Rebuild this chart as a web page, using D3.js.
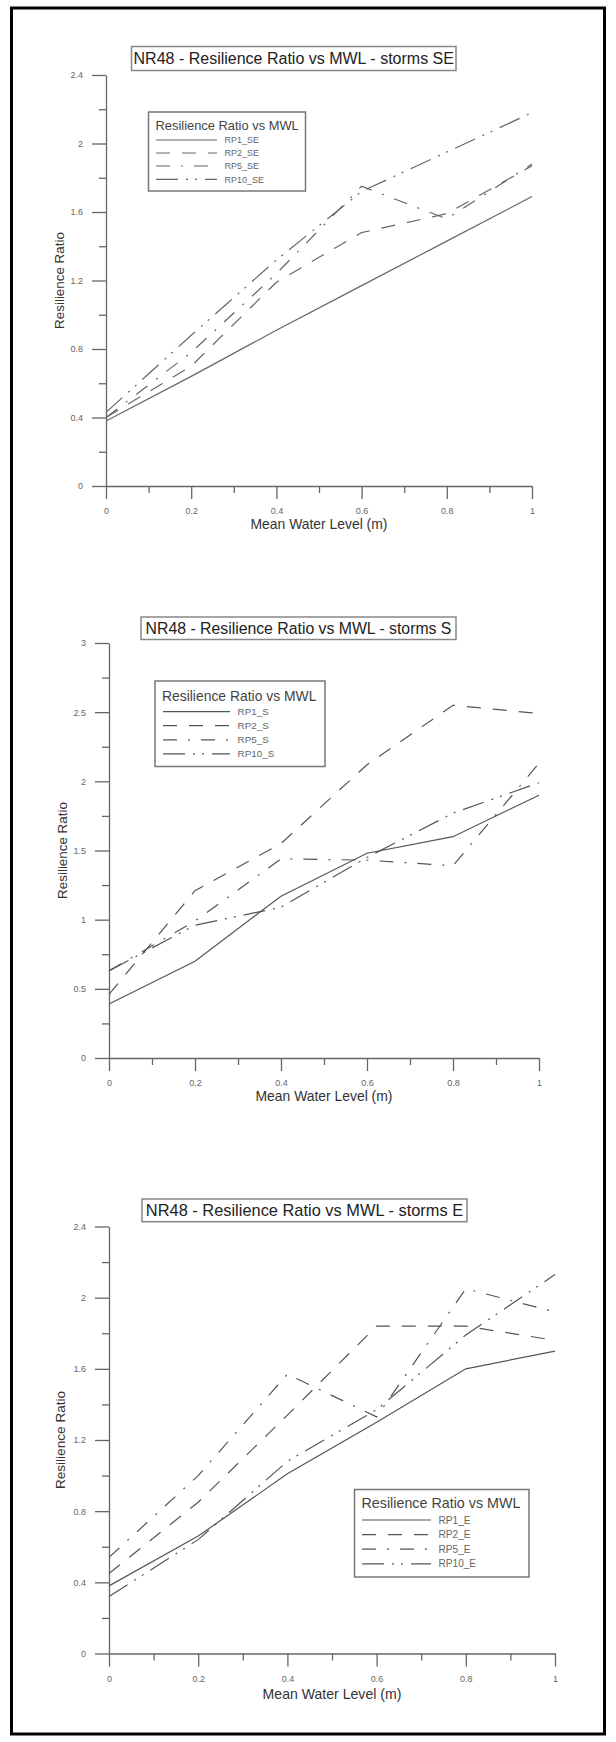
<!DOCTYPE html>
<html>
<head>
<meta charset="utf-8">
<script src="https://cdn.jsdelivr.net/npm/d3@7"></script>
<style>
  html, body { margin: 0; padding: 0; background: #fff; }
  svg { display: block; }
</style>
</head>
<body>
<script>
// ---------- DATA ----------
const mwl = [0, 0.2, 0.4, 0.6, 0.8, 1];
const xTickValues = [0, 0.2, 0.4, 0.6, 0.8, 1];
const xTickLabels = ["0", "0.2", "0.4", "0.6", "0.8", "1"];

const yTicksSE = [0, 0.4, 0.8, 1.2, 1.6, 2, 2.4];
const yTickLabelsSE = ["0", "0.4", "0.8", "1.2", "1.6", "2", "2.4"];
const yTicksS = [0, 0.5, 1, 1.5, 2, 2.5, 3];
const yTickLabelsS = ["0", "0.5", "1", "1.5", "2", "2.5", "3"];
const yTicksE = [0, 0.4, 0.8, 1.2, 1.6, 2, 2.4];
const yTickLabelsE = ["0", "0.4", "0.8", "1.2", "1.6", "2", "2.4"];

const namesSE = ["RP1_SE", "RP2_SE", "RP5_SE", "RP10_SE"];
const rp1SE  = [0.38, 0.64, 0.91, 1.17, 1.43, 1.69];
const rp2SE  = [0.40, 0.70, 1.19, 1.48, 1.59, 1.87];
const rp5SE  = [0.40, 0.78, 1.24, 1.75, 1.56, 1.88];
const rp10SE = [0.43, 0.88, 1.32, 1.72, 1.95, 2.18];

const namesS = ["RP1_S", "RP2_S", "RP5_S", "RP10_S"];
const rp1S  = [0.39, 0.70, 1.17, 1.48, 1.60, 1.90];
const rp2S  = [0.46, 1.21, 1.55, 2.12, 2.55, 2.49];
const rp5S  = [0.63, 0.99, 1.44, 1.43, 1.39, 2.13];
const rp10S = [0.63, 0.96, 1.09, 1.45, 1.77, 1.99];

const namesE = ["RP1_E", "RP2_E", "RP5_E", "RP10_E"];
const rp1E  = [0.38, 0.66, 1.01, 1.30, 1.60, 1.70];
const rp2E  = [0.45, 0.85, 1.34, 1.84, 1.84, 1.76];
const rp5E  = [0.54, 1.00, 1.57, 1.33, 2.05, 1.92];
const rp10E = [0.32, 0.64, 1.08, 1.37, 1.79, 2.13];

const titles = [
  "NR48 - Resilience Ratio vs MWL - storms SE",
  "NR48 - Resilience Ratio vs MWL - storms S",
  "NR48 - Resilience Ratio vs MWL - storms E"
];
const legendTitle = "Resilience Ratio vs MWL";
const xLabel = "Mean Water Level (m)";
const yLabel = "Resilience Ratio";

// ---------- STYLE ----------
const dashes = [null, "14,12", "14,11,2,11", "22,8,2,7,2,8"];
const FONT = "'Liberation Sans', Arial, sans-serif";

const W = 616, H = 1742;
const svg = d3.select("body").append("svg").attr("width", W).attr("height", H);
svg.append("rect").attr("width", W).attr("height", H).attr("fill", "#fff");
svg.append("rect").attr("x", 11.5).attr("y", 8).attr("width", 593).attr("height", 1726)
  .attr("fill", "none").attr("stroke", "#000").attr("stroke-width", 3);

const charts = [
  { title: titles[0], titleSize: 16, titleBox: [131.5, 46.5, 324.5, 24],
    left: 106, right: 532, top: 75, bottom: 486, ymax: 2.4,
    yTicks: yTicksSE, yLabels: yTickLabelsSE, yMinorStep: 0.2,
    names: namesSE, series: [rp1SE, rp2SE, rp5SE, rp10SE], lineColor: "#666",
    legend: { box: [148.5, 112, 157, 79], titleSize: 12.9, titleY: 129.5, entryY: [140, 153, 166, 179.3],
              lineX: [156, 217], labelX: 224.5, labelSize: 9 },
    yLabelX: 64, xLabelY: 529, labelSize: 13.4 },
  { title: titles[1], titleSize: 15.8, titleBox: [141, 617, 315, 22.5],
    left: 109, right: 539, top: 643, bottom: 1058, ymax: 3,
    yTicks: yTicksS, yLabels: yTickLabelsS, yMinorStep: 0.25,
    names: namesS, series: [rp1S, rp2S, rp5S, rp10S], lineColor: "#555",
    legend: { box: [155, 681, 170, 85.5], titleSize: 13.9, titleY: 700.5, entryY: [711.7, 725.7, 739.8, 753.9],
              lineX: [163, 230], labelX: 237.5, labelSize: 9.9 },
    yLabelX: 66.5, xLabelY: 1100.5, labelSize: 13.4 },
  { title: titles[2], titleSize: 16.4, titleBox: [142, 1199, 325, 22.7],
    left: 109, right: 555, top: 1226.5, bottom: 1653.5, ymax: 2.4,
    yTicks: yTicksE, yLabels: yTickLabelsE, yMinorStep: 0.2,
    names: namesE, series: [rp1E, rp2E, rp5E, rp10E], lineColor: "#555",
    legend: { box: [354.5, 1489.5, 174.5, 87.5], titleSize: 14.3, titleY: 1508, entryY: [1520, 1534.6, 1549.2, 1563.8],
              lineX: [362, 431], labelX: 438.5, labelSize: 10.1 },
    yLabelX: 65, xLabelY: 1699, labelSize: 13.6 }
];

function styleAxis(g) {
  g.attr("font-family", FONT).attr("font-size", 9);
  g.selectAll("path, line").attr("stroke", "#666").attr("stroke-width", 1.3);
  g.selectAll("text").attr("fill", "#666");
}

charts.forEach(c => {
  const g = svg.append("g");
  const x = d3.scaleLinear().domain([0, 1]).range([c.left, c.right]);
  const y = d3.scaleLinear().domain([0, c.ymax]).range([c.bottom, c.top]);

  const xMinor = d3.range(0.1, 1, 0.2);
  const yMinor = d3.range(c.yMinorStep, c.ymax, c.yMinorStep * 2);

  // minor ticks
  g.append("g").attr("transform", `translate(0,${c.bottom})`)
    .call(d3.axisBottom(x).tickValues(xMinor).tickSize(7).tickFormat(""))
    .call(a => a.select(".domain").remove()).call(styleAxis);
  g.append("g").attr("transform", `translate(${c.left},0)`)
    .call(d3.axisLeft(y).tickValues(yMinor).tickSize(7).tickFormat(""))
    .call(a => a.select(".domain").remove()).call(styleAxis);

  // major axes
  g.append("g").attr("transform", `translate(0,${c.bottom})`)
    .call(d3.axisBottom(x).tickValues(xTickValues).tickSize(13).tickSizeOuter(0).tickPadding(9)
      .tickFormat((d, i) => xTickLabels[i]))
    .call(styleAxis);
  g.append("g").attr("transform", `translate(${c.left},0)`)
    .call(d3.axisLeft(y).tickValues(c.yTicks).tickSize(14).tickSizeOuter(0).tickPadding(9)
      .tickFormat((d, i) => c.yLabels[i]))
    .call(styleAxis);

  // axis titles
  g.append("text").attr("x", (c.left + c.right) / 2).attr("y", c.xLabelY)
    .attr("text-anchor", "middle").attr("font-family", FONT).attr("font-size", c.labelSize + 0.5)
    .attr("fill", "#333").text(xLabel);
  g.append("text").attr("transform", `translate(${c.yLabelX},${(c.top + c.bottom) / 2}) rotate(-90)`)
    .attr("text-anchor", "middle").attr("font-family", FONT).attr("font-size", c.labelSize)
    .attr("fill", "#333").text(yLabel);

  // series
  const line = d3.line().x((d, i) => x(mwl[i])).y(d => y(d));
  c.series.forEach((s, k) => {
    g.append("path").datum(s).attr("d", line).attr("fill", "none")
      .attr("stroke", c.lineColor).attr("stroke-width", 1.2)
      .attr("stroke-dasharray", dashes[k]);
  });

  // title box
  const tb = c.titleBox;
  g.append("rect").attr("x", tb[0]).attr("y", tb[1]).attr("width", tb[2]).attr("height", tb[3])
    .attr("fill", "#fff").attr("stroke", "#888").attr("stroke-width", 1.5);
  g.append("text").attr("x", tb[0] + tb[2] / 2).attr("y", tb[1] + tb[3] / 2 + c.titleSize * 0.36)
    .attr("text-anchor", "middle").attr("font-family", FONT).attr("font-size", c.titleSize)
    .attr("fill", "#222").text(c.title);

  // legend
  const L = c.legend;
  g.append("rect").attr("x", L.box[0]).attr("y", L.box[1]).attr("width", L.box[2]).attr("height", L.box[3])
    .attr("fill", "#fff").attr("stroke", "#777").attr("stroke-width", 1.5);
  g.append("text").attr("x", L.box[0] + 7).attr("y", L.titleY)
    .attr("font-family", FONT).attr("font-size", L.titleSize).attr("fill", "#444").text(legendTitle);
  c.names.forEach((n, k) => {
    g.append("line").attr("x1", L.lineX[0]).attr("x2", L.lineX[1])
      .attr("y1", L.entryY[k]).attr("y2", L.entryY[k])
      .attr("stroke", c.lineColor).attr("stroke-width", 1.2).attr("stroke-dasharray", dashes[k]);
    g.append("text").attr("x", L.labelX).attr("y", L.entryY[k] + L.labelSize * 0.36)
      .attr("font-family", FONT).attr("font-size", L.labelSize).attr("fill", "#666").text(n);
  });
});
</script>
</body>
</html>
